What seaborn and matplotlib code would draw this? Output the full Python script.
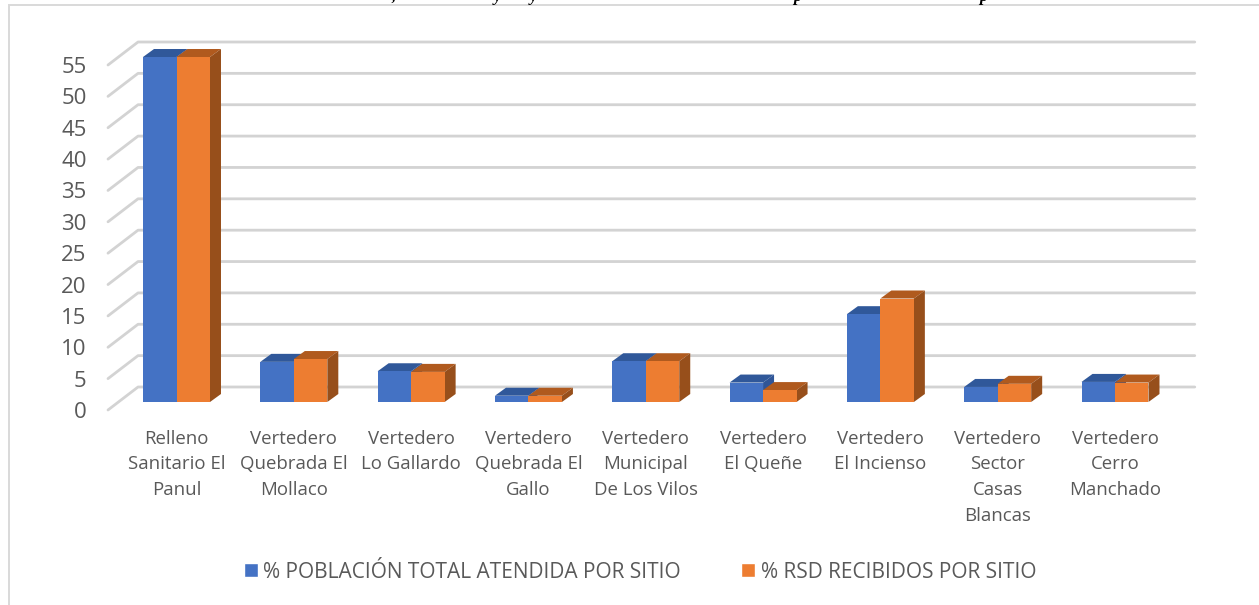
import pandas as pd
import seaborn as sns
import matplotlib.pyplot as plt
from matplotlib.patches import Polygon, Rectangle, Patch
from matplotlib.transforms import ScaledTranslation

sitios = ["Relleno\nSanitario El\nPanul", "Vertedero\nQuebrada El\nMollaco", "Vertedero\nLo Gallardo",
          "Vertedero\nQuebrada El\nGallo", "Vertedero\nMunicipal\nDe Los Vilos", "Vertedero\nEl Queñe",
          "Vertedero\nEl Incienso", "Vertedero\nSector\nCasas\nBlancas", "Vertedero\nCerro\nManchado"]
poblacion = [55, 6.4, 4.9, 1.0, 6.5, 3.1, 14.0, 2.4, 3.2]
rsd = [55, 6.85, 4.8, 1.0, 6.5, 1.9, 16.5, 2.9, 3.1]
series = ["% POBLACIÓN TOTAL ATENDIDA POR SITIO", "% RSD RECIBIDOS POR SITIO"]
ticks = list(range(0, 60, 5))
colores = ["#4472c4", "#ed7d31"]
tapa = ["#30589a", "#b05a1e"]
lado = ["#2f5597", "#974f1b"]

sns.set_style("white")
plt.rcParams['font.family'] = ['Open Sans', 'DejaVu Sans']

df = pd.DataFrame({"sitio": sitios * 2,
                   "valor": poblacion + rsd,
                   "serie": [series[0]] * len(sitios) + [series[1]] * len(sitios)})

W, H = 1259, 605
fig = plt.figure(figsize=(W / 100, H / 100), dpi=100)
ax = fig.add_axes([117.85 / W, (H - 402) / H, 1055.8 / W, 345 / H])

sns.barplot(data=df, x="sitio", y="valor", hue="serie", palette=colores, width=0.571,
            saturation=1, legend=False, ax=ax, zorder=3, linewidth=0, edgecolor="none")
ax.set_xlim(-0.5, 8.5)
ax.set_ylim(0, 55)
ax.set_xlabel("")
ax.set_ylabel("")
sns.despine(ax=ax, left=True, bottom=True)

# px to data units
ux = 1055.8 / 9
uy = 345 / 55
dx, dy = 11 / ux, 8 / uy

# depth of the bars
n = len(sitios)
for i, p in enumerate(ax.patches[:2 * n]):
    s = 0 if i < n else 1
    x0, w, h = p.get_x(), p.get_width(), p.get_height()
    ax.add_patch(Polygon([(x0, h), (x0 + w, h), (x0 + w + dx, h + dy), (x0 + dx, h + dy)],
                         closed=True, fc=tapa[s], ec="none", clip_on=False, zorder=2 + s * 0.5))
    ax.add_patch(Polygon([(x0 + w, 0), (x0 + w + dx, dy), (x0 + w + dx, h + dy), (x0 + w, h)],
                         closed=True, fc=lado[s], ec="none", clip_on=False, zorder=2 + s * 0.5))

# back wall and side wall gridlines
for v in ticks:
    yb = v + 15 / uy
    yf = v - 8 / uy
    ax.plot([-0.584, -0.328, 8.68], [yf, yb, yb], color="#d3d3d3", lw=2.0, clip_on=False,
            zorder=1, solid_capstyle="round", solid_joinstyle="round")

ax.set_yticks(ticks)
ax.set_yticklabels([str(t) for t in ticks])
ax.tick_params(axis="y", length=0, pad=22.5, labelsize=16, labelcolor="#595959")
ax.tick_params(axis="x", length=0, pad=20, labelsize=13.4, labelcolor="#595959")
shift = ScaledTranslation(0, -8 / 100, fig.dpi_scale_trans)
for lab in ax.get_yticklabels():
    lab.set_transform(lab.get_transform() + shift)
for lab in ax.get_xticklabels():
    lab.set_linespacing(1.55)

handles = [Patch(fc=colores[0], label=series[0]), Patch(fc=colores[1], label=series[1])]
fig.legend(handles=handles, loc="center", bbox_to_anchor=(640 / W, (H - 572) / H), ncol=2,
           frameon=False, fontsize=15, handlelength=0.68, handleheight=0.68,
           handletextpad=0.25, columnspacing=2.9, labelcolor="#595959")

# chart frame, cut by the picture edge
fig.add_artist(Rectangle((8.5 / W, -0.1), 1.2, (H - 5) / H + 0.1, transform=fig.transFigure,
                         fc="none", ec="#d9d9d9", lw=1.4))

# what is left of the cropped title above the frame
for xp, frag in [(393, ","), (497, "y"), (533, "y"), (797, "p"), (983, "p")]:
    fig.text(xp / W, (H - 1) / H, frag, family="Liberation Serif", weight="bold", style="italic",
             fontsize=12, color="black", ha="center", va="baseline")

fig.savefig("out.png", dpi=100)
